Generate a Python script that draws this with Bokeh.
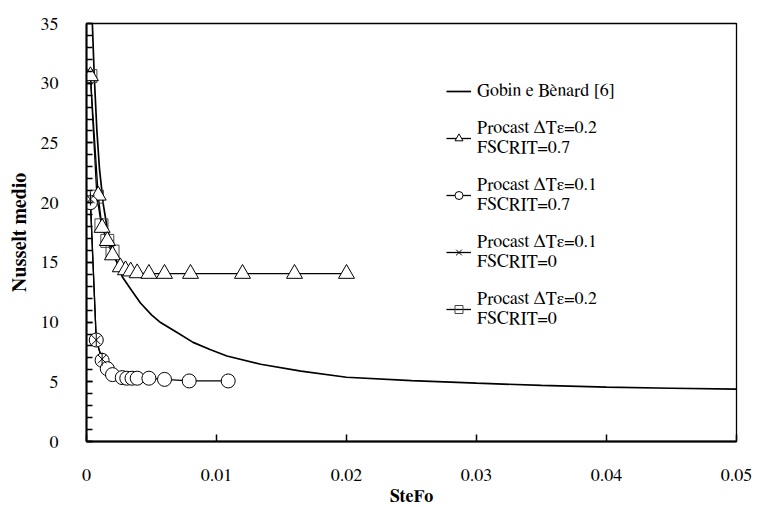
import math
from bokeh.plotting import figure
from bokeh.models import (Legend, LegendItem, FixedTicker, CustomJSTickFormatter, Range1d)
from bokeh.embed import file_html
from bokeh.resources import INLINE

# ---- data ----
gobin_x = [0.00045, 0.0006, 0.0008, 0.001, 0.0013, 0.0016, 0.002, 0.00275, 0.0035, 0.00415,
           0.005, 0.0057, 0.007, 0.0082, 0.0095, 0.0108, 0.0134, 0.0165, 0.02, 0.025,
           0.03, 0.035, 0.04, 0.045, 0.05]
gobin_y = [35.0, 30.5, 26.0, 22.8, 19.8, 17.8, 16.0, 13.8, 12.6, 11.6,
           10.6, 9.96, 9.1, 8.3, 7.7, 7.16, 6.47, 5.9, 5.38, 5.1,
           4.88, 4.7, 4.55, 4.46, 4.38]

tri_x = [0.0003, 0.0009, 0.0012, 0.0016, 0.002, 0.0026, 0.003, 0.0034, 0.0039, 0.0048,
         0.006, 0.008, 0.012, 0.016, 0.02]
tri_y = [30.6, 20.6, 17.9, 16.8, 15.6, 14.6, 14.35, 14.25, 14.1, 14.05,
         14.05, 14.05, 14.05, 14.05, 14.05]

circ_x = [0.0003, 0.00075, 0.0012, 0.0016, 0.002, 0.00275, 0.0031, 0.0035, 0.0039,
          0.0048, 0.006, 0.0079, 0.0109]
circ_y = [20.0, 8.5, 6.8, 6.1, 5.6, 5.35, 5.3, 5.3, 5.3, 5.3, 5.2, 5.07, 5.07]

ast_x = [0.0003, 0.00075, 0.0012]
ast_y = [20.3, 8.5, 6.9]

sq_x = [0.0003, 0.0008, 0.00115, 0.0016, 0.002]
sq_y = [30.6, 20.5, 18.1, 16.8, 15.9]

x_ticks = [0, 0.01, 0.02, 0.03, 0.04, 0.05]
y_ticks = [0, 5, 10, 15, 20, 25, 30, 35]

FONT = "FreeSerif"

p = figure(width=757, height=508, output_backend="svg", toolbar_location=None,
           x_range=Range1d(0, 0.05), y_range=Range1d(0, 35),
           min_border_left=86, min_border_right=21, min_border_top=23, min_border_bottom=65)
p.background_fill_color = "white"
p.border_fill_color = "white"
p.outline_line_color = "black"
p.outline_line_width = 1.3
p.xgrid.visible = False
p.ygrid.visible = False

r_g = p.line(gobin_x, gobin_y, line_color="black", line_width=1.7)

l_t = p.line(tri_x, tri_y, line_color="black", line_width=1.3)
l_c = p.line(circ_x, circ_y, line_color="black", line_width=1.3)
l_a = p.line(ast_x, ast_y, line_color="black", line_width=1.3)
l_s = p.line(sq_x, sq_y, line_color="black", line_width=1.3)

s_s = p.scatter(sq_x, sq_y, marker="square", size=13, line_color="#444444", line_width=1.0,
                fill_alpha=0)
s_t = p.scatter(tri_x, tri_y, marker="triangle", size=16, line_color="black", line_width=1.0,
                fill_color="white")
s_c = p.scatter(circ_x, circ_y, marker="circle", size=14, line_color="black", line_width=1.0,
                fill_color="white")
s_ax = p.scatter(ast_x, ast_y, marker="x", size=12, line_color="black", line_width=1.0)
s_av = p.scatter(ast_x, ast_y, marker="dash", size=13, angle=math.pi / 2,
                 line_color="black", line_width=1.0)

# axes
p.xaxis.ticker = FixedTicker(ticks=x_ticks)
p.yaxis.ticker = FixedTicker(ticks=y_ticks, minor_ticks=list(range(0, 36)))
p.xaxis.formatter = CustomJSTickFormatter(code="return tick.toString();")
p.yaxis.formatter = CustomJSTickFormatter(code="return tick.toString();")
for ax in (p.xaxis[0], p.yaxis[0]):
    ax.axis_line_color = "black"
    ax.axis_line_width = 2
    ax.major_tick_line_color = "black"
    ax.major_tick_line_width = 1.5
    ax.major_tick_out = 0
    ax.minor_tick_out = 0
    ax.major_label_text_font = FONT
    ax.major_label_text_font_size = "18px"
    ax.major_label_text_color = "black"
    ax.axis_label_text_font = FONT
    ax.axis_label_text_font_style = "bold"
    ax.axis_label_text_color = "black"
p.xaxis.axis_label_text_font_size = "18px"
p.yaxis.axis_label_text_font_size = "20px"
p.xaxis.major_tick_in = 7
p.xaxis.minor_tick_line_color = None
p.yaxis.major_tick_in = 6
p.yaxis.minor_tick_in = 6
p.yaxis.minor_tick_line_color = "black"
p.yaxis.minor_tick_line_width = 1.3
p.xaxis.major_label_standoff = 27
p.yaxis.major_label_standoff = 28
p.xaxis.axis_label = "SteFo"
p.yaxis.axis_label = "Nusselt medio"
p.xaxis.axis_label_standoff = 4
p.yaxis.axis_label_standoff = 8

legend = Legend(items=[
    LegendItem(label="Gobin e Bènard [6]", renderers=[r_g]),
    LegendItem(label="Procast ΔTε=0.2\nFSCRIT=0.7", renderers=[l_t, s_t]),
    LegendItem(label="Procast ΔTε=0.1\nFSCRIT=0.7", renderers=[l_c, s_c]),
    LegendItem(label="Procast ΔTε=0.1\nFSCRIT=0", renderers=[l_a, s_ax, s_av]),
    LegendItem(label="Procast ΔTε=0.2\nFSCRIT=0", renderers=[l_s, s_s]),
], location=(360, 112))
legend.label_text_font = FONT
legend.label_text_font_size = "18px"
legend.label_text_color = "black"
legend.label_text_line_height = 1.15
legend.border_line_color = None
legend.background_fill_alpha = 0
legend.padding = 0
legend.margin = 0
legend.spacing = 17
legend.glyph_width = 25
legend.glyph_height = 20
legend.label_standoff = 6
p.add_layout(legend)

open("out.html", "w").write(file_html(p, INLINE))
